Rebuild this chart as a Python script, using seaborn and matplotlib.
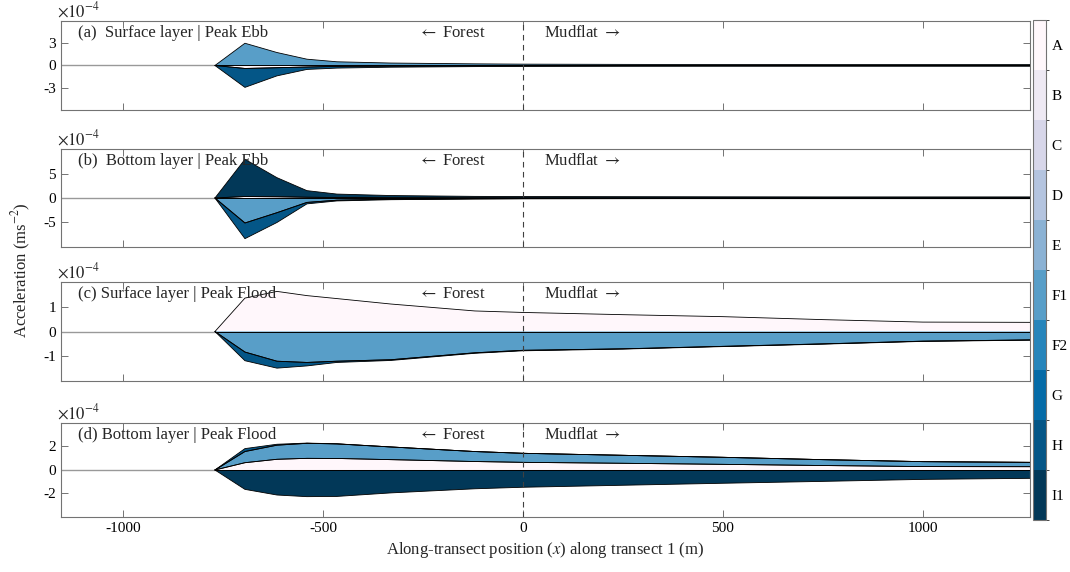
import numpy as np
import matplotlib
matplotlib.use("Agg")
import matplotlib.pyplot as plt
import seaborn as sns
from matplotlib.colors import ListedColormap, BoundaryNorm

# Momentum-balance terms (colour classes)
terms = ["A", "B", "C", "D", "E", "F1", "F2", "G", "H", "I1"]

# Along-transect positions (m)
x_pos = [-770, -695, -615, -540, -465, -330, -120, 0, 250, 500, 750, 1000, 1268]

# (a) Surface layer, peak ebb  (x1e-4 m s^-2)
surf_ebb_A = [0, -0.40, -0.30, -0.20, -0.12, -0.08, -0.05, -0.04, -0.03, -0.03, -0.03, -0.03, -0.03]
surf_ebb_F1 = [0, 3.00, 1.75, 0.85, 0.50, 0.33, 0.22, 0.18, 0.15, 0.13, 0.12, 0.12, 0.12]
surf_ebb_H = [0, -2.55, -1.10, -0.33, -0.23, -0.15, -0.10, -0.08, -0.07, -0.06, -0.06, -0.06, -0.06]

# (b) Bottom layer, peak ebb
bot_ebb_A = [0, 0.30, 0.25, 0.15, 0.10, 0.05, 0.03, 0.02, 0.02, 0.02, 0.02, 0.02, 0.02]
bot_ebb_F1 = [0, -5.10, -3.00, -0.90, -0.45, -0.25, -0.15, -0.12, -0.10, -0.08, -0.07, -0.07, -0.07]
bot_ebb_H = [0, -3.20, -2.00, -0.30, -0.15, -0.10, -0.05, -0.04, -0.03, -0.03, -0.03, -0.03, -0.03]
bot_ebb_I1 = [0, 7.60, 3.90, 1.35, 0.70, 0.45, 0.30, 0.28, 0.25, 0.22, 0.20, 0.20, 0.20]

# (c) Surface layer, peak flood
surf_fld_A = [0, 1.35, 1.62, 1.45, 1.33, 1.11, 0.83, 0.77, 0.68, 0.60, 0.48, 0.38, 0.37]
surf_fld_F1 = [0, -0.83, -1.20, -1.25, -1.20, -1.14, -0.86, -0.76, -0.70, -0.60, -0.50, -0.39, -0.34]
surf_fld_H = [0, -0.35, -0.28, -0.14, -0.05, -0.03, -0.02, -0.02, -0.01, -0.01, -0.01, -0.01, -0.01]

# (d) Bottom layer, peak flood
bot_fld_A = [0, 0.62, 0.91, 0.99, 0.98, 0.88, 0.72, 0.65, 0.57, 0.48, 0.38, 0.29, 0.28]
bot_fld_F1 = [0, 0.95, 1.20, 1.28, 1.24, 1.08, 0.85, 0.77, 0.68, 0.60, 0.50, 0.42, 0.37]
bot_fld_H = [0, 0.25, 0.08, 0.02, 0.01, 0, 0, 0, 0, 0, 0, 0, 0]
bot_fld_I1 = [0, -1.65, -2.13, -2.27, -2.25, -1.95, -1.60, -1.47, -1.30, -1.13, -0.97, -0.80, -0.71]

panels = [
    ("(a)  Surface layer | Peak Ebb", 6, 3,
     {"A": surf_ebb_A, "F1": surf_ebb_F1, "H": surf_ebb_H}),
    ("(b)  Bottom layer | Peak Ebb", 10, 5,
     {"A": bot_ebb_A, "F1": bot_ebb_F1, "H": bot_ebb_H, "I1": bot_ebb_I1}),
    ("(c) Surface layer | Peak Flood", 2, 1,
     {"A": surf_fld_A, "F1": surf_fld_F1, "H": surf_fld_H}),
    ("(d) Bottom layer | Peak Flood", 4, 2,
     {"A": bot_fld_A, "F1": bot_fld_F1, "H": bot_fld_H, "I1": bot_fld_I1}),
]

x_ticks = [-1000, -500, 0, 500, 1000]

sns.set_style("ticks")
plt.rcParams.update({
    "font.family": ["Liberation Serif", "DejaVu Serif"],
    "mathtext.fontset": "stix",
    "axes.unicode_minus": False,
    "font.size": 11,
})

cmap = sns.color_palette("PuBu", as_cmap=True)
term_colors = {t: cmap(v) for t, v in zip(terms, np.linspace(0, 1, len(terms)))}

fig = plt.figure(figsize=(10.7, 5.72), dpi=100)
rects = [
    [0.057, 0.8077, 0.9056, 0.1556],
    [0.057, 0.5682, 0.9056, 0.1713],
    [0.057, 0.3339, 0.9056, 0.1731],
    [0.057, 0.0962, 0.9056, 0.1643],
]

xs = np.array(x_pos, dtype=float)
frame_col = "0.45"

for i, ((title, lim, tstep, data), rect) in enumerate(zip(panels, rects)):
    ax = fig.add_axes(rect)
    ax.axhline(0, color="0.6", lw=1.0, zorder=1)

    pos_base = np.zeros_like(xs)
    neg_base = np.zeros_like(xs)
    for name in terms:
        if name not in data:
            continue
        vals = np.array(data[name], dtype=float)
        if vals.sum() >= 0:
            lower, upper = pos_base.copy(), pos_base + vals
            pos_base = upper
        else:
            upper, lower = neg_base.copy(), neg_base + vals
            neg_base = lower
        ax.fill_between(xs, lower, upper, facecolor=term_colors[name],
                        edgecolor="none", zorder=2)
        for edge in (lower, upper):
            sns.lineplot(x=xs, y=edge, ax=ax, color="black", lw=0.6,
                         legend=False, zorder=3)

    ax.axvline(0, color="0.25", lw=0.8, ls=(0, (5, 4)), zorder=4)

    ax.set_xlim(-1155, 1268)
    ax.set_ylim(-lim, lim)
    ax.set_yticks([-tstep, 0, tstep])
    ax.set_yticklabels([str(-tstep), "0", str(tstep)])
    ax.set_xticks(x_ticks)
    ax.tick_params(direction="in", length=5, width=0.7, top=True, right=True,
                   colors=frame_col, labelcolor="black", labelsize=11,
                   labelbottom=(i == 3))
    for sp in ax.spines.values():
        sp.set_color(frame_col)
        sp.set_linewidth(0.8)
    ax.set_ylabel("")
    ax.set_xlabel("")

    ax.text(-0.004, 1.005, r"$\times10^{-4}$", transform=ax.transAxes,
            ha="left", va="bottom", fontsize=12)
    ax.annotate(title, xy=(0, 1), xycoords="axes fraction",
                xytext=(17, -12), textcoords="offset pixels",
                ha="left", va="center", fontsize=12)
    ax.annotate(r"$\leftarrow$ Forest", xy=(0, 1), xycoords=("data", "axes fraction"),
                xytext=(-37, -12), textcoords="offset pixels",
                ha="right", va="center", fontsize=12)
    ax.annotate(r"Mudflat $\rightarrow$", xy=(0, 1), xycoords=("data", "axes fraction"),
                xytext=(21, -12), textcoords="offset pixels",
                ha="left", va="center", fontsize=12)

    if i == 3:
        ax.set_xlabel("Along-transect position ($\\mathit{x}$) along transect 1 (m)",
                      fontsize=12, labelpad=4)

fig.text(0.02, 0.528, "Acceleration (ms$^{-2}$)", rotation=90,
         ha="center", va="center", fontsize=12)

# Discrete colour bar, A at the top
cax = fig.add_axes([0.9654, 0.0909, 0.0121, 0.874])
rev_colors = [term_colors[t] for t in terms[::-1]]
cb_cmap = ListedColormap(rev_colors)
norm = BoundaryNorm(np.arange(len(terms) + 1), cb_cmap.N)
sm = plt.cm.ScalarMappable(cmap=cb_cmap, norm=norm)
cb = fig.colorbar(sm, cax=cax, ticks=np.arange(len(terms)) + 0.5)
cb.ax.set_yticklabels(terms[::-1])
cb.ax.tick_params(direction="in", length=3, width=0.6, colors=frame_col,
                  labelcolor="black", labelsize=11, pad=4)
cb.outline.set_edgecolor(frame_col)
cb.outline.set_linewidth(0.8)

fig.savefig("out.png", dpi=100)
